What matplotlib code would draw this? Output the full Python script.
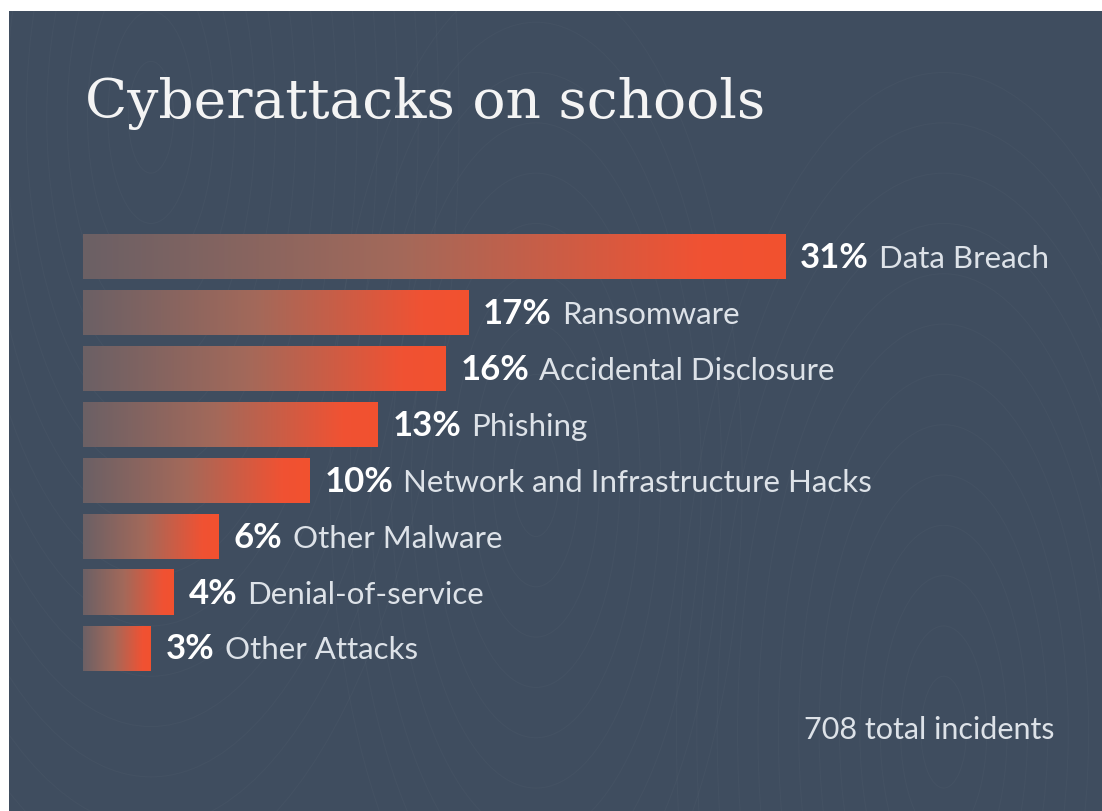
import numpy as np
import matplotlib.pyplot as plt
from matplotlib.colors import LinearSegmentedColormap

categories = ["Data Breach", "Ransomware", "Accidental Disclosure", "Phishing",
              "Network and Infrastructure Hacks", "Other Malware",
              "Denial-of-service", "Other Attacks"]
shares = [31, 17, 16, 13, 10, 6, 4, 3]
title = "Cyberattacks on schools"
total_note = "708 total incidents"

BG = "#3f4d5f"
W, H = 1102, 811
fig = plt.figure(figsize=(W / 100, H / 100), dpi=100, facecolor="white")

# panel sits a little in from the top/left edge, like the original crop
ax = fig.add_axes([9 / W, 0, 1 - 9 / W, 1 - 11 / H])
ax.set_facecolor(BG)
for s in ax.spines.values():
    s.set_visible(False)
ax.set_xticks([])
ax.set_yticks([])

px_per_pct = 22.65
ax.set_xlim(-(83 - 9) / px_per_pct, (W - 83) / px_per_pct)
pitch = 55.9
ax.set_ylim((H - 257) / pitch, (11 - 257) / pitch)

# faint background rings for texture
for cx, cy, rmax in [(3, -2.5, 14), (38, 8.5, 12), (20, 4, 10)]:
    for r in np.arange(1, rmax, 0.9):
        ax.add_patch(plt.Circle((cx, cy), r, fill=False, lw=0.8,
                                ec="white", alpha=0.025, zorder=0))

cmap = LinearSegmentedColormap.from_list(
    "bar", [(0, "#6b6065"), (0.45, "#a3695a"), (0.88, "#f05233"), (1, "#f2512f")])
grad = np.linspace(0, 1, 256).reshape(1, -1)
bar_h = 45 / pitch

fig.canvas.draw()
renderer = fig.canvas.get_renderer()
inv = ax.transData.inverted()

for i, (cat, v) in enumerate(zip(categories, shares)):
    ax.imshow(grad, cmap=cmap, aspect="auto", interpolation="bicubic",
              extent=(0, v, i + bar_h / 2, i - bar_h / 2), zorder=2)
    base = i + 0.2
    t = ax.text(v + 15 / px_per_pct, base, f"{v}%", color="white",
                fontsize=25, fontweight="bold", family="Lato",
                va="baseline", ha="left", zorder=3)
    bb = t.get_window_extent(renderer)
    x_end = inv.transform((bb.x1, bb.y0))[0]
    ax.text(x_end + 10 / px_per_pct, base, cat, color="#dde2e8",
            fontsize=22.5, family="Lato", va="baseline", ha="left", zorder=3)

ax.text((1055 - 83) / px_per_pct, (739 - 257) / pitch, total_note,
        color="#dde2e8", fontsize=22, family="Lato",
        va="baseline", ha="right")

tt = fig.text(85 / W, 1 - 118 / H, title, color="#f4f4f4",
              fontsize=44, family="DejaVu Serif", va="baseline", ha="left")
# fit the title to its width in the reference
bb = tt.get_window_extent(renderer)
tt.set_fontsize(44 * 680 / bb.width)

fig.savefig("out.png", dpi=100, facecolor="white")
